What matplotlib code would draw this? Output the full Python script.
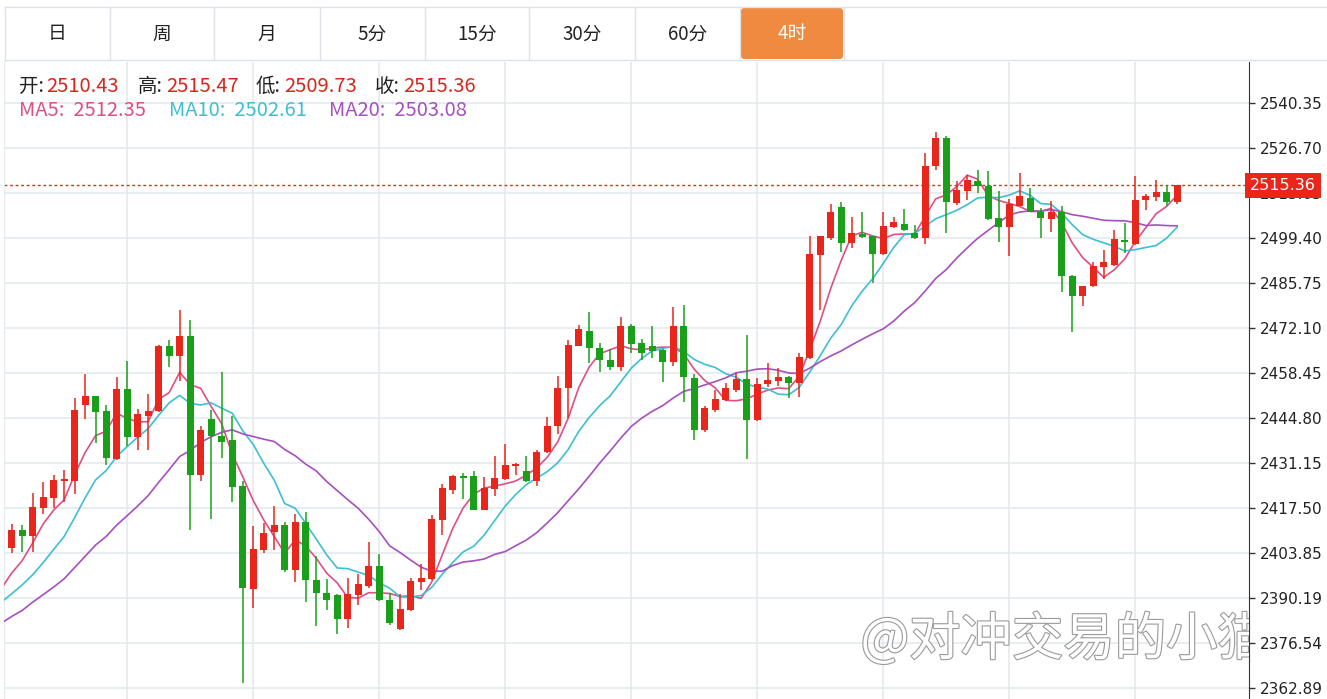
import pandas as pd
import matplotlib
matplotlib.use("Agg")
import matplotlib.pyplot as plt
import matplotlib.patheffects as pe
from matplotlib.patches import FancyBboxPatch

plt.rcParams['font.family'] = ['Noto Sans CJK SC', 'DejaVu Sans']

# 4h candles, oldest first
opens = [2405.37, 2410.73, 2408.91, 2417.40, 2420.64, 2425.69, 2425.69, 2448.74, 2451.37, 2446.92,
         2432.36, 2453.60, 2439.04, 2445.51, 2446.92, 2466.74, 2463.71, 2469.77, 2427.51, 2444.50,
         2439.44, 2438.03, 2424.07, 2392.93, 2404.66, 2410.12, 2412.34, 2398.59, 2413.35, 2395.76,
         2391.72, 2391.11, 2383.83, 2391.11, 2393.94, 2400.01, 2389.69, 2380.80, 2386.46, 2394.95,
         2395.96, 2413.76, 2423.06, 2427.10, 2427.10, 2416.99, 2423.26, 2426.29, 2430.34, 2428.72,
         2425.69, 2434.38, 2442.27, 2453.80, 2466.74, 2471.19, 2466.13, 2462.49, 2460.27, 2472.81,
         2467.55, 2466.54, 2465.53, 2461.68, 2472.81, 2457.04, 2441.06, 2447.33, 2450.36, 2453.39,
         2456.63, 2444.09, 2455.01, 2456.02, 2457.24, 2455.42, 2462.90, 2494.24, 2499.29, 2508.80,
         2497.88, 2500.71, 2499.90, 2494.44, 2502.73, 2503.74, 2500.91, 2499.29, 2521.34, 2529.63,
         2510.01, 2513.65, 2516.69, 2515.27, 2505.56, 2502.73, 2509.20, 2511.63, 2507.38, 2505.16,
         2507.38, 2487.97, 2481.90, 2484.73, 2490.60, 2491.20, 2498.89, 2497.68, 2510.82, 2511.83,
         2513.45, 2510.43]
highs = [2412.75, 2412.24, 2422.05, 2425.39, 2427.41, 2428.93, 2450.87, 2458.25, 2451.37, 2448.74,
         2457.24, 2462.19, 2447.53, 2452.18, 2466.90, 2468.36, 2477.66, 2474.42, 2442.47, 2447.33,
         2458.85, 2445.51, 2425.69, 2412.14, 2412.95, 2418.21, 2413.35, 2415.58, 2416.39, 2403.04,
         2395.96, 2391.30, 2396.16, 2397.58, 2407.09, 2403.45, 2391.72, 2391.31, 2396.37, 2400.61,
         2415.38, 2424.68, 2427.51, 2428.12, 2428.72, 2426.90, 2433.17, 2437.01, 2431.00, 2433.17,
         2435.00, 2445.10, 2457.44, 2468.36, 2473.01, 2476.85, 2467.55, 2465.73, 2475.44, 2473.41,
         2468.76, 2472.61, 2465.70, 2478.47, 2479.08, 2458.25, 2448.34, 2453.39, 2455.42, 2458.45,
         2469.98, 2456.83, 2461.48, 2459.87, 2457.64, 2464.52, 2499.90, 2500.10, 2509.81, 2510.22,
         2505.77, 2507.18, 2500.10, 2507.38, 2505.77, 2508.19, 2503.34, 2525.18, 2531.65, 2530.23,
         2516.69, 2518.51, 2519.92, 2519.72, 2513.65, 2511.23, 2519.11, 2514.66, 2508.40, 2510.62,
         2509.00, 2488.10, 2484.94, 2492.00, 2495.86, 2501.92, 2503.94, 2518.30, 2512.85, 2516.89,
         2515.40, 2515.47]
lows = [2403.85, 2404.05, 2404.25, 2415.58, 2417.60, 2419.42, 2421.75, 2444.50, 2437.22, 2430.54,
        2431.96, 2436.21, 2435.00, 2435.00, 2446.70, 2460.27, 2455.92, 2410.93, 2425.69, 2414.17,
        2432.57, 2419.22, 2364.42, 2387.07, 2403.85, 2404.66, 2398.19, 2394.95, 2389.09, 2381.81,
        2386.46, 2379.18, 2381.00, 2388.08, 2393.34, 2389.30, 2382.01, 2380.60, 2386.30, 2392.73,
        2395.80, 2409.31, 2421.65, 2420.23, 2416.80, 2416.80, 2421.24, 2425.89, 2427.51, 2425.29,
        2424.07, 2434.20, 2440.05, 2444.90, 2466.50, 2461.48, 2458.65, 2459.26, 2459.06, 2464.52,
        2462.29, 2463.10, 2455.62, 2460.47, 2449.55, 2438.03, 2440.65, 2446.72, 2449.96, 2452.79,
        2432.36, 2443.90, 2454.20, 2454.40, 2450.97, 2451.17, 2462.70, 2477.66, 2498.69, 2495.05,
        2496.46, 2499.50, 2485.75, 2494.20, 2502.50, 2501.52, 2499.09, 2497.47, 2520.12, 2500.91,
        2509.41, 2511.02, 2513.05, 2504.76, 2498.08, 2494.04, 2509.00, 2507.20, 2499.50, 2501.32,
        2483.12, 2470.98, 2478.67, 2484.50, 2486.96, 2490.80, 2494.85, 2497.27, 2507.99, 2510.62,
        2509.20, 2509.73]
closes = [2410.73, 2408.91, 2417.80, 2420.84, 2426.09, 2426.29, 2447.13, 2451.37, 2446.52, 2432.77,
          2453.60, 2439.04, 2446.11, 2446.92, 2466.74, 2463.71, 2469.77, 2427.51, 2441.26, 2439.24,
          2437.63, 2423.87, 2393.13, 2405.06, 2409.92, 2412.34, 2398.59, 2413.35, 2395.56, 2391.72,
          2389.49, 2383.83, 2391.31, 2394.35, 2400.01, 2389.49, 2382.62, 2386.86, 2395.36, 2396.16,
          2414.16, 2423.46, 2427.10, 2426.70, 2416.99, 2423.46, 2426.50, 2430.54, 2430.95, 2425.69,
          2434.59, 2442.47, 2454.00, 2466.94, 2471.80, 2466.13, 2462.49, 2460.27, 2472.81, 2467.35,
          2464.52, 2465.12, 2461.68, 2472.81, 2457.24, 2441.26, 2447.93, 2450.56, 2453.80, 2456.63,
          2444.09, 2455.21, 2456.43, 2457.24, 2455.42, 2463.30, 2494.65, 2499.90, 2507.18, 2497.88,
          2500.91, 2499.70, 2494.44, 2503.14, 2504.15, 2501.72, 2499.29, 2521.34, 2529.83, 2510.22,
          2514.06, 2516.89, 2515.07, 2505.16, 2502.73, 2509.61, 2512.24, 2507.38, 2505.36, 2507.38,
          2487.77, 2481.90, 2484.73, 2491.00, 2492.01, 2499.09, 2498.28, 2511.02, 2512.04, 2513.45,
          2510.22, 2515.36]
# closes before the visible window (estimated from where the MA lines start)
prior_closes = [2370, 2372, 2368, 2375, 2380, 2376, 2379, 2383, 2378, 2381, 2385,
                2382, 2387, 2384, 2386, 2387, 2390, 2391, 2392, 2405]

yticks = [2540.35, 2526.70, 2513.05, 2499.40, 2485.75, 2472.10, 2458.45,
          2444.80, 2431.15, 2417.50, 2403.85, 2390.19, 2376.54, 2362.89]
tabs = ["日", "周", "月", "5分", "15分", "30分", "60分", "4时"]

RED = "#E8261B"
GREEN = "#1A9F1A"
C_MA5 = "#DD4F86"
C_MA10 = "#3DBFD2"
C_MA20 = "#A64FBE"
GRID = "#E4EAEF"

fig = plt.figure(figsize=(13.27, 6.99), dpi=100)
ax = fig.add_axes([4 / 1327, 0, 1245 / 1327, 637 / 699])

n = len(closes)
allc = pd.Series(prior_closes + closes)
ma5 = allc.rolling(5).mean()
ma10 = allc.rolling(10).mean()
ma20 = allc.rolling(20).mean()
k = len(prior_closes)
xs = list(range(-1, n))
ax.plot(xs, ma5[k - 1:].values, color=C_MA5, lw=1.2, zorder=3)
ax.plot(xs, ma10[k - 1:].values, color=C_MA10, lw=1.2, zorder=3)
ax.plot(xs, ma20[k - 1:].values, color=C_MA20, lw=1.2, zorder=3)

for i in range(n):
    o, h, l, c = opens[i], highs[i], lows[i], closes[i]
    col = RED if c >= o else GREEN
    ax.vlines(i, l, h, color=col, lw=1.1, zorder=4)
    ax.bar(i, max(abs(c - o), 0.35), bottom=min(o, c), width=0.68, color=col, zorder=5)

last = closes[-1]
ax.axhline(last, color=RED, lw=1, ls=(0, (2, 2)), zorder=2)

ax.set_xlim(-0.73, 117.84)
ax.set_ylim(2359.56, 2552.79)
ax.set_xticks(range(11, 118, 12))
ax.tick_params(axis='x', length=0, labelbottom=False)
ax.yaxis.tick_right()
ax.set_yticks(yticks, [f"{t:.2f}" for t in yticks])
ax.tick_params(axis='y', direction='out', length=4, color='#333333', labelsize=11,
               labelcolor='#222222', pad=4, width=1)
for lab in ax.get_yticklabels():
    lab.set_fontfamily('DejaVu Sans')
ax.grid(True, color=GRID, lw=1.2, zorder=0)
ax.set_axisbelow(True)
for s in ['top', 'bottom']:
    ax.spines[s].set_visible(False)
ax.spines['left'].set_color(GRID)
ax.spines['right'].set_color('#333333')

# last price tag covers the 2513.05 tick label, as on the source chart
ax.text(1.001, last, f"{last:.2f}", transform=ax.get_yaxis_transform(), ha='left', va='center',
        color='white', fontsize=11.5, family='DejaVu Sans', zorder=10, clip_on=False,
        bbox=dict(boxstyle='square,pad=0.32', fc=RED, ec='none'))

wm = ax.text(0.688, 0.069, "@对冲交易的小猫", transform=ax.transAxes, fontsize=37,
             color='white', ha='left', va='baseline', zorder=6, clip_on=True)
wm.set_path_effects([pe.Stroke(linewidth=1.6, foreground='#9A9A9A'), pe.Normal()])

# top tab strip and header text (page layout, pixel coordinates)
ov = fig.add_axes([0, 0, 1, 1])
ov.set_xlim(0, 1327)
ov.set_ylim(699, 0)
ov.axis('off')
ov.patch.set_alpha(0)

edges = [5, 110, 214, 320, 425, 529, 635, 740, 844]
ov.plot([5, 1327], [7, 7], color='#DCE2E7', lw=1)
ov.plot([5, 1327], [60, 60], color='#DCE2E7', lw=1)
for e in edges:
    ov.plot([e, e], [7, 60], color='#DCE2E7', lw=1)
ov.add_patch(FancyBboxPatch((741, 8), 102, 51, boxstyle='round,pad=0,rounding_size=3',
                            fc='#F08A40', ec='none'))
for j, t in enumerate(tabs):
    cx = (edges[j] + edges[j + 1]) / 2
    ov.text(cx, 34, t, ha='center', va='center', fontsize=13.5,
            color='white' if t == "4时" else '#222222')

head = [("开:", 19, "2510.43", 46), ("高:", 138, "2515.47", 166),
        ("低:", 256, "2509.73", 284), ("收:", 375, "2515.36", 403)]
for lab, x0, val, x1 in head:
    ov.text(x0, 86, lab, ha='left', va='center', fontsize=14, color='#222222')
    ov.text(x1, 86, val, ha='left', va='center', fontsize=14.5, color='#D8271C')
ma_head = [("MA5:  2512.35", 19, C_MA5), ("MA10:  2502.61", 169, C_MA10),
           ("MA20:  2503.08", 329, C_MA20)]
for txt, x0, col in ma_head:
    ov.text(x0, 111, txt, ha='left', va='center', fontsize=14.5, color=col)

fig.savefig("out.png", dpi=100)
